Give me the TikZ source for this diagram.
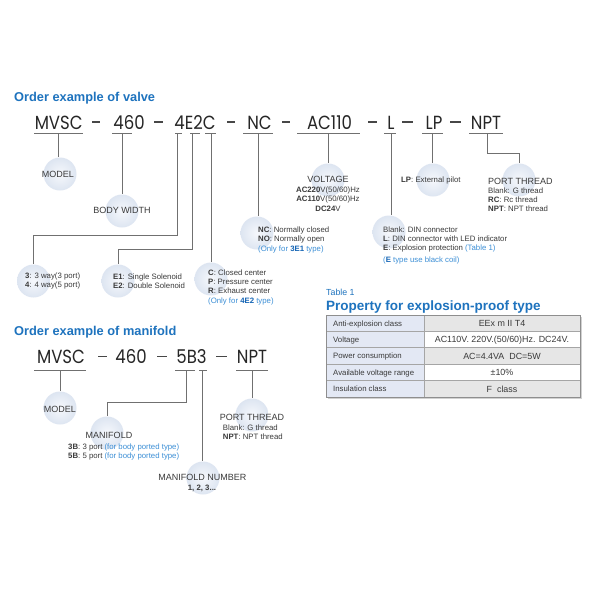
\documentclass[tikz,border=0pt]{standalone}
\usepackage{fontspec}
\setmainfont{Liberation Sans}
\newfontfamily\codefont{Poppins}
\definecolor{titleblue}{HTML}{1E73BE}
\definecolor{noteblue}{HTML}{3C8FD6}
\definecolor{boldblue}{HTML}{1565B5}
\definecolor{txt}{HTML}{3A3A3A}
\definecolor{codecol}{HTML}{262626}
\definecolor{linegray}{HTML}{707070}
\definecolor{cin}{HTML}{F6F8FC}
\definecolor{cout}{HTML}{DDE5F1}
\definecolor{tleft}{HTML}{E3E8F4}
\definecolor{tgray}{HTML}{E6E6E6}
\definecolor{tborder}{HTML}{8E8E8E}
\newcommand{\codeseg}[1]{\scalebox{0.87}[1]{#1}}
\begin{document}
\begin{tikzpicture}[x=1pt,y=-1pt,
  lbl/.style={inner sep=0pt, text=txt, font=\fontsize{9}{10}\selectfont, text height=6.4pt, text depth=0pt},
  det/.style={inner sep=0pt, text=txt, font=\fontsize{7.8}{9}\selectfont, text height=5.6pt, text depth=0pt, anchor=west},
  tbl/.style={inner sep=0pt, text=txt, font=\fontsize{8.9}{10}\selectfont, text height=6.4pt, text depth=0pt},
  circ/.style={circle, minimum size=33pt, inner sep=0pt, inner color=cin, outer color=cout},
  conn/.style={draw=linegray, line width=0.9pt},
  codetxt/.style={inner sep=0pt, text=codecol, font=\codefont\fontsize{19}{19}\selectfont, text height=13.5pt, text depth=0pt},
  dashline/.style={draw=codecol!85, line width=1.1pt},
  ttl/.style={anchor=west, inner sep=0pt, text=titleblue, font=\bfseries\fontsize{12.8}{14}\selectfont, text height=9.2pt, text depth=0pt}
]
\useasboundingbox[fill=white] (0,0) rectangle (600,600);

% ---------------- valve ----------------
\node[ttl] (title1) at (14,96.5) {Order example of valve};

\node[codetxt] (vMV) at (58.7,122.5) {\codeseg{MVSC}};
\node[codetxt] (v460) at (129,122.5) {\codeseg{460}};
\node[codetxt] (v4E2C) at (195,122.5) {\codeseg{4E2C}};
\node[codetxt] (vNC) at (259.5,122.5) {\codeseg{NC}};
\node[codetxt] (vAC) at (329.5,122.5) {\codeseg{AC110}};
\node[codetxt] (vL) at (391,122.5) {\codeseg{L}};
\node[codetxt] (vLP) at (434,122.5) {\codeseg{LP}};
\node[codetxt] (vNPT) at (486,122.5) {\codeseg{NPT}};
\foreach \a/\b in {92/100,154/163,227/235,282/290,368/377,402/413,450/461}
  \draw[dashline] (\a,122) -- (\b,122);

% underlines
\foreach \a/\b in {34/83,112/132,175/182,190/200,205/216,243/273,297/360,384/396,422/443,469/503}
  \draw[conn] (\a,133.3) -- (\b,133.3);
\coordinate (uMV) at (58.7,133.3);
\coordinate (u460) at (122,133.3);
\coordinate (u4) at (177,133.3);
\coordinate (uE2) at (192,133.3);
\coordinate (uC) at (211,133.3);
\coordinate (uNC) at (258,133.3);
\coordinate (uAC) at (328,133.3);
\coordinate (uL) at (391,133.3);
\coordinate (uLP) at (432,133.3);
\coordinate (uNPT) at (487,133.3);
\coordinate (b4) at (177,235.7);
\coordinate (bE2) at (192,249);
\coordinate (bNPT) at (487,153);

% circles
\node[circ] (cModel) at (60,174) {};
\node[circ] (cBody) at (122,211) {};
\node[circ] (cWay) at (33.5,281) {};
\node[circ] (cSol) at (118,281) {};
\node[circ] (cCen) at (211,279) {};
\node[circ] (cNC) at (257,233) {};
\node[circ] (cVolt) at (328,180) {};
\node[circ] (cL) at (389,232) {};
\node[circ] (cLP) at (433,180) {};
\node[circ] (cPort) at (519,180) {};

% connectors
\draw[conn] (uMV) -- (uMV |- cModel.north);
\draw[conn] (u460) -- (u460 |- cBody.north);
\draw[conn] (u4) -- (b4) -| (cWay.north);
\draw[conn] (uE2) -- (bE2) -| (cSol.north);
\draw[conn] (uC) -- (uC |- cCen.north);
\draw[conn] (uNC) -- (uNC |- cNC.north);
\draw[conn] (uAC) -- (uAC |- cVolt.north);
\draw[conn] (uL) -- (uL |- cL.north);
\draw[conn] (uLP) -- (uLP |- cLP.north);
\draw[conn] (uNPT) -- (bNPT) -| (cPort.north);

% labels
\node[lbl] (tModel) at (58,174) {MODEL};
\node[lbl] (tBody) at (122,210) {BODY WIDTH};
\node[det] (tW1) at (25,276) {\textbf{3}: 3 way(3 port)};
\node[det] (tW2) at (25,285) {\textbf{4}: 4 way(5 port)};
\node[det] (tS1) at (113,277) {\textbf{E1}: Single Solenoid};
\node[det] (tS2) at (113,286) {\textbf{E2}: Double Solenoid};
\node[det] (tC1) at (208,272.3) {\textbf{C}: Closed center};
\node[det] (tC2) at (208,281.3) {\textbf{P}: Pressure center};
\node[det] (tC3) at (208,290.5) {\textbf{R}: Exhaust center};
\node[det,text=noteblue] (tC4) at (208,300.7) {(Only for \textcolor{boldblue}{\textbf{4E2}} type)};
\node[det] (tN1) at (258,229.3) {\textbf{NC}: Normally closed};
\node[det] (tN2) at (258,238.5) {\textbf{NO}: Normally open};
\node[det,text=noteblue] (tN3) at (258,248.7) {(Only for \textcolor{boldblue}{\textbf{3E1}} type)};
\node[lbl] (tV0) at (328,179) {VOLTAGE};
\node[det,anchor=center] (tV1) at (328,189.5) {\textbf{AC220}V(50/60)Hz};
\node[det,anchor=center] (tV2) at (328,199) {\textbf{AC110}V(50/60)Hz};
\node[det,anchor=center] (tV3) at (328,208.3) {\textbf{DC24}V};
\node[det] (tLP) at (401,180) {\textbf{LP}: External pilot};
\node[lbl,anchor=west] (tP0) at (488,181) {PORT THREAD};
\node[det] (tP1) at (488,190.7) {Blank: G thread};
\node[det] (tP2) at (488,199.7) {\textbf{RC}: Rc thread};
\node[det] (tP3) at (488,208.7) {\textbf{NPT}: NPT thread};
\node[det] (tL1) at (383,229.3) {Blank: DIN connector};
\node[det] (tL2) at (383,238.3) {\textbf{L}: DIN connector with LED indicator};
\node[det] (tL3) at (383,247.3) {\textbf{E}: Explosion protection \textcolor{noteblue}{(Table 1)}};
\node[det,text=noteblue] (tL4) at (383,259.3) {(\textcolor{boldblue}{\textbf{E}} type use black coil)};

% ---------------- table ----------------
\node[anchor=west, inner sep=0pt, text=titleblue, font=\fontsize{8.8}{10}\selectfont, text height=6.3pt, text depth=0pt] (tabnum) at (326,292.5) {Table 1};
\node[anchor=west, inner sep=0pt, text=titleblue, font=\bfseries\fontsize{13.5}{15}\selectfont, text height=9.7pt, text depth=0pt] (tabtitle) at (326,305.3) {Property for explosion-proof type};
\fill[black!18] (327.5,316.5) rectangle (581.5,398.5);
\fill[tleft] (326,315) rectangle (424,397);
\fill[tgray] (424,315) rectangle (580,331.4);
\fill[white] (424,331.4) rectangle (580,347.8);
\fill[tgray] (424,347.8) rectangle (580,364.2);
\fill[white] (424,364.2) rectangle (580,380.6);
\fill[tgray] (424,380.6) rectangle (580,397);
\foreach \y in {331.4,347.8,364.2,380.6}
  \draw[draw=tborder!80, line width=0.7pt] (326,\y) -- (580,\y);
\draw[draw=tborder!80, line width=0.7pt] (424,315) -- (424,397);
\draw[draw=tborder, line width=0.9pt] (326,315) rectangle (580,397);
\node[det] (r1a) at (333,323.2) {Anti-explosion class};
\node[det] (r2a) at (333,339.6) {Voltage};
\node[det] (r3a) at (333,356) {Power consumption};
\node[det] (r4a) at (333,372.4) {Available voltage range};
\node[det] (r5a) at (333,388.8) {Insulation class};
\node[tbl] (r1b) at (502,323.2) {EEx m II T4};
\node[tbl] (r2b) at (502,339.6) {AC110V. 220V.(50/60)Hz. DC24V.};
\node[tbl] (r3b) at (502,356) {AC=4.4VA\ \ DC=5W};
\node[tbl] (r4b) at (502,372.4) {±10\%};
\node[tbl] (r5b) at (502,388.8) {F\ \ class};

% ---------------- manifold ----------------
\node[ttl] (title2) at (14,331.3) {Order example of manifold};
\node[codetxt] (mMV) at (61,357) {\codeseg{MVSC}};
\node[codetxt] (m460) at (131,357) {\codeseg{460}};
\node[codetxt] (m5B3) at (191.5,357) {\codeseg{5B3}};
\node[codetxt] (mNPT) at (252,357) {\codeseg{NPT}};
\foreach \a/\b in {98/107,157/167,216/227}
  \draw[dashline] (\a,356.5) -- (\b,356.5);
\foreach \a/\b in {34/86,175/195,199/207,236/268}
  \draw[conn] (\a,370) -- (\b,370);
\coordinate (wMV) at (60,370);
\coordinate (w5B) at (186,370);
\coordinate (w3) at (202,370);
\coordinate (wNPT) at (252,370);
\coordinate (b5B) at (186,402);

\node[circ] (cModel2) at (60,408) {};
\node[circ] (cMan) at (107,433) {};
\node[circ] (cNum) at (203,478) {};
\node[circ] (cPort2) at (252,415) {};

\draw[conn] (wMV) -- (wMV |- cModel2.north);
\draw[conn] (w5B) -- (b5B) -| (cMan.north);
\draw[conn] (w3) -- (w3 |- cNum.north);
\draw[conn] (wNPT) -- (wNPT |- cPort2.north);

\node[lbl] (mModel) at (60,409) {MODEL};
\node[lbl] (mMan) at (109,435) {MANIFOLD};
\node[det] (mMan1) at (68,446.7) {\textbf{3B}: 3 port \textcolor{noteblue}{(for body ported type)}};
\node[det] (mMan2) at (68,455.7) {\textbf{5B}: 5 port \textcolor{noteblue}{(for body ported type)}};
\node[lbl] (mNum) at (202.3,477.3) {MANIFOLD NUMBER};
\node[det,anchor=center] (mNum1) at (202,487.7) {\textbf{1, 2, 3...}};
\node[lbl] (mPort) at (252,417.3) {PORT THREAD};
\node[det] (mPort1) at (222.7,427.7) {Blank: G thread};
\node[det] (mPort2) at (222.7,436.7) {\textbf{NPT}: NPT thread};
\end{tikzpicture}
\end{document}
